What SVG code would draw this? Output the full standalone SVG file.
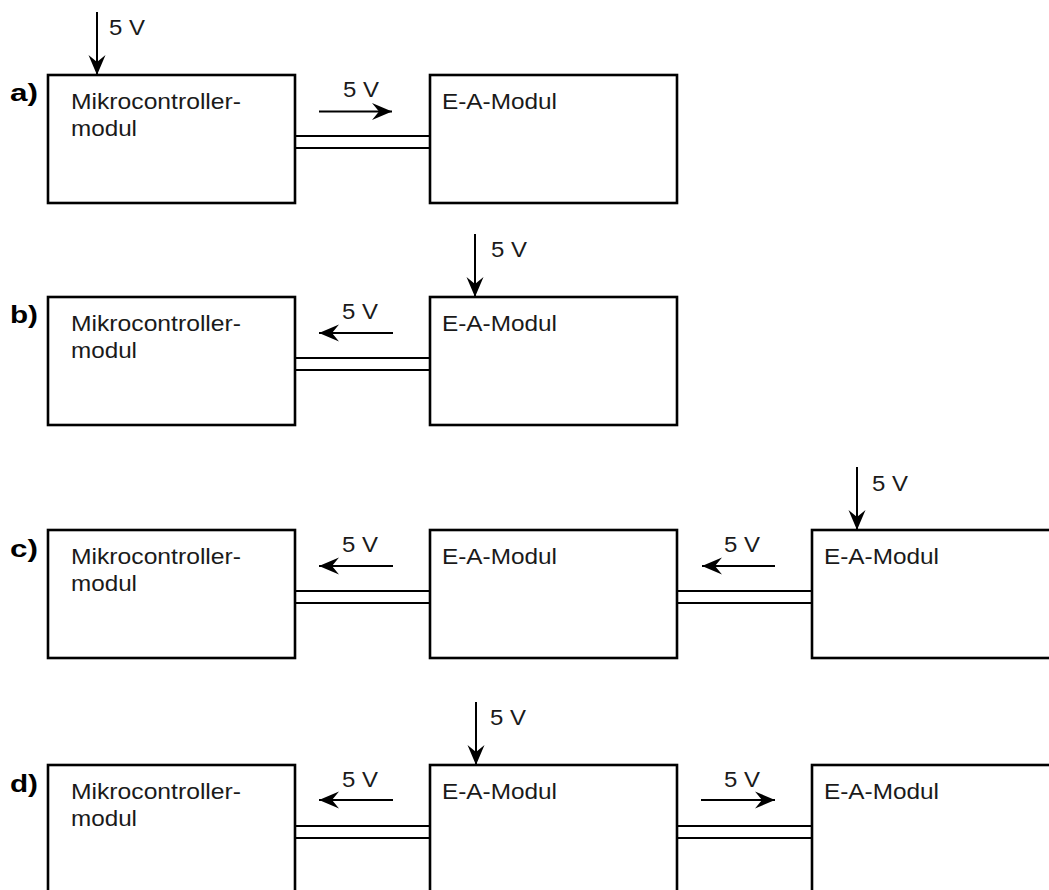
<svg xmlns="http://www.w3.org/2000/svg" width="1049" height="890" viewBox="0 0 1049 890">
  <style>
    .box { fill: #ffffff; stroke: #000000; stroke-width: 2.6; }
    .wire { fill: none; stroke: #000000; stroke-width: 2; }
    .arr { fill: none; stroke: #000000; stroke-width: 2; }
    .lbl { font-family: "Liberation Sans", Arial, sans-serif; font-size: 22.5px; fill: #1a1a1a; }
    .tag { font-family: "Liberation Sans", Arial, sans-serif; font-size: 24px; font-weight: bold; fill: #000000; }
  </style>
  <defs>
    <marker id="head" viewBox="-20 -9 20 18" refX="0" refY="0" markerWidth="20" markerHeight="18" markerUnits="userSpaceOnUse" orient="auto">
      <path d="M0,0 L-20,-8.5 L-13,0 L-20,8.5 Z" fill="#000000"/>
    </marker>
  </defs>

  <rect width="1049" height="890" fill="#ffffff"/>

  <!-- row a -->
  <text class="tag" x="10" y="101" textLength="28" lengthAdjust="spacingAndGlyphs">a)</text>
  <g id="a-mcu">
    <rect class="box" x="48" y="75" width="247" height="128"/>
    <text class="lbl" x="71" y="109" textLength="170" lengthAdjust="spacingAndGlyphs">Mikrocontroller-</text>
    <text class="lbl" x="71" y="136" textLength="66" lengthAdjust="spacingAndGlyphs">modul</text>
  </g>
  <g id="a-io1">
    <rect class="box" x="430" y="75" width="247" height="128"/>
    <text class="lbl" x="442" y="109" textLength="115" lengthAdjust="spacingAndGlyphs">E-A-Modul</text>
  </g>

  <!-- row b -->
  <text class="tag" x="10" y="323" textLength="28" lengthAdjust="spacingAndGlyphs">b)</text>
  <g id="b-mcu">
    <rect class="box" x="48" y="297" width="247" height="128"/>
    <text class="lbl" x="71" y="331" textLength="170" lengthAdjust="spacingAndGlyphs">Mikrocontroller-</text>
    <text class="lbl" x="71" y="358" textLength="66" lengthAdjust="spacingAndGlyphs">modul</text>
  </g>
  <g id="b-io1">
    <rect class="box" x="430" y="297" width="247" height="128"/>
    <text class="lbl" x="442" y="331" textLength="115" lengthAdjust="spacingAndGlyphs">E-A-Modul</text>
  </g>

  <!-- row c -->
  <text class="tag" x="10" y="557" textLength="28" lengthAdjust="spacingAndGlyphs">c)</text>
  <g id="c-mcu">
    <rect class="box" x="48" y="530" width="247" height="128"/>
    <text class="lbl" x="71" y="564" textLength="170" lengthAdjust="spacingAndGlyphs">Mikrocontroller-</text>
    <text class="lbl" x="71" y="591" textLength="66" lengthAdjust="spacingAndGlyphs">modul</text>
  </g>
  <g id="c-io1">
    <rect class="box" x="430" y="530" width="247" height="128"/>
    <text class="lbl" x="442" y="564" textLength="115" lengthAdjust="spacingAndGlyphs">E-A-Modul</text>
  </g>
  <g id="c-io2">
    <rect class="box" x="812" y="530" width="247" height="128"/>
    <text class="lbl" x="824" y="564" textLength="115" lengthAdjust="spacingAndGlyphs">E-A-Modul</text>
  </g>

  <!-- row d -->
  <text class="tag" x="10" y="792" textLength="28" lengthAdjust="spacingAndGlyphs">d)</text>
  <g id="d-mcu">
    <rect class="box" x="48" y="765" width="247" height="128"/>
    <text class="lbl" x="71" y="799" textLength="170" lengthAdjust="spacingAndGlyphs">Mikrocontroller-</text>
    <text class="lbl" x="71" y="826" textLength="66" lengthAdjust="spacingAndGlyphs">modul</text>
  </g>
  <g id="d-io1">
    <rect class="box" x="430" y="765" width="247" height="128"/>
    <text class="lbl" x="442" y="799" textLength="115" lengthAdjust="spacingAndGlyphs">E-A-Modul</text>
  </g>
  <g id="d-io2">
    <rect class="box" x="812" y="765" width="247" height="128"/>
    <text class="lbl" x="824" y="799" textLength="115" lengthAdjust="spacingAndGlyphs">E-A-Modul</text>
  </g>

  <g id="connectors">
    <!-- bus links (double lines) -->
    <path class="wire" d="M295,136 H430 M295,148 H430"/>
    <path class="wire" d="M295,358 H430 M295,370 H430"/>
    <path class="wire" d="M295,591 H430 M295,603 H430 M677,591 H812 M677,603 H812"/>
    <path class="wire" d="M295,826 H430 M295,838 H430 M677,826 H812 M677,838 H812"/>

    <!-- supply inputs -->
    <line class="arr" x1="97" y1="12" x2="97" y2="75" marker-end="url(#head)"/>
    <line class="arr" x1="475" y1="234" x2="475" y2="297" marker-end="url(#head)"/>
    <line class="arr" x1="857" y1="467" x2="857" y2="530" marker-end="url(#head)"/>
    <line class="arr" x1="476" y1="702" x2="476" y2="765" marker-end="url(#head)"/>

    <!-- supply direction along the bus -->
    <line class="arr" x1="319" y1="111.5" x2="392" y2="111.5" marker-end="url(#head)"/>
    <line class="arr" x1="393" y1="333" x2="319" y2="333" marker-end="url(#head)"/>
    <line class="arr" x1="775" y1="566" x2="702" y2="566" marker-end="url(#head)"/>
    <line class="arr" x1="393" y1="566" x2="319" y2="566" marker-end="url(#head)"/>
    <line class="arr" x1="393" y1="800" x2="319" y2="800" marker-end="url(#head)"/>
    <line class="arr" x1="701" y1="800" x2="775" y2="800" marker-end="url(#head)"/>

    <!-- voltage labels -->
    <text class="lbl" x="109" y="35" textLength="36" lengthAdjust="spacingAndGlyphs">5 V</text>
    <text class="lbl" x="343" y="97" textLength="36" lengthAdjust="spacingAndGlyphs">5 V</text>
    <text class="lbl" x="491" y="257" textLength="36" lengthAdjust="spacingAndGlyphs">5 V</text>
    <text class="lbl" x="342" y="319" textLength="36" lengthAdjust="spacingAndGlyphs">5 V</text>
    <text class="lbl" x="872" y="491" textLength="36" lengthAdjust="spacingAndGlyphs">5 V</text>
    <text class="lbl" x="342" y="552" textLength="36" lengthAdjust="spacingAndGlyphs">5 V</text>
    <text class="lbl" x="724" y="552" textLength="36" lengthAdjust="spacingAndGlyphs">5 V</text>
    <text class="lbl" x="490" y="725" textLength="36" lengthAdjust="spacingAndGlyphs">5 V</text>
    <text class="lbl" x="342" y="787" textLength="36" lengthAdjust="spacingAndGlyphs">5 V</text>
    <text class="lbl" x="724" y="787" textLength="36" lengthAdjust="spacingAndGlyphs">5 V</text>
  </g>
</svg>
